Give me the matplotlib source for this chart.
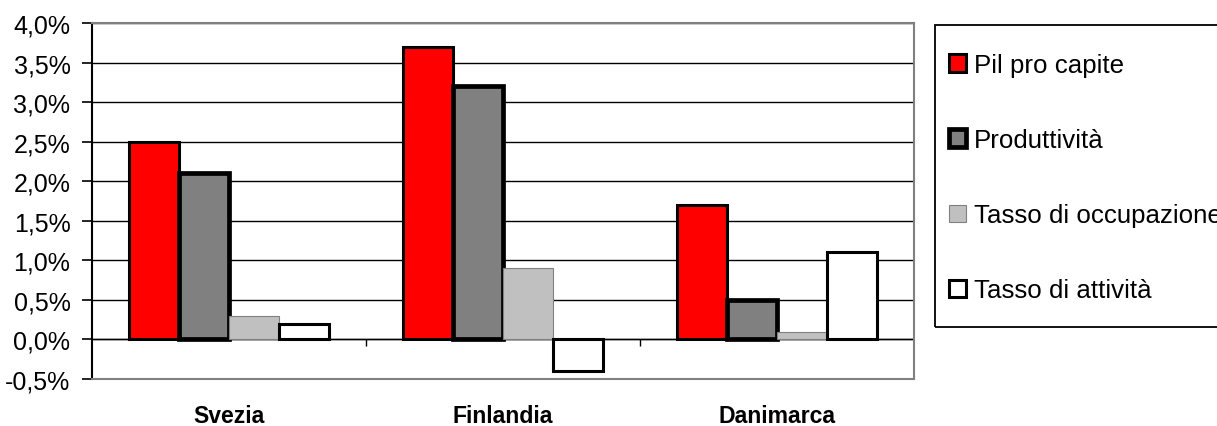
import matplotlib
matplotlib.use("Agg")
import matplotlib.pyplot as plt
import matplotlib.transforms as mtransforms
from matplotlib.patches import Patch, Rectangle
from matplotlib.ticker import FuncFormatter, MultipleLocator
import numpy as np

plt.rcParams["font.family"] = ["Liberation Sans", "DejaVu Sans"]

countries = ["Svezia", "Finlandia", "Danimarca"]
series_names = ["Pil pro capite", "Produttività", "Tasso di occupazione", "Tasso di attività"]
pil = [2.5, 3.7, 1.7]
produttivita = [2.1, 3.2, 0.5]
occupazione = [0.3, 0.9, 0.1]
attivita = [0.2, -0.4, 1.1]

values = [pil, produttivita, occupazione, attivita]
faces = ["#FF0000", "#808080", "#C0C0C0", "#FFFFFF"]
edges = ["#000000", "#000000", "#808080", "#000000"]
edge_widths = [2.2, 3.4, 0.8, 2.2]

W, H = 1217, 427
fig = plt.figure(figsize=(W / 100, H / 100), dpi=100)
ax = fig.add_axes([92 / W, (H - 380) / H, (914 - 92) / W, (380 - 24) / H])

x = np.arange(len(countries))
bar_w = 1 / 5.5  # four bars plus a 150% gap per category
for i, vals in enumerate(values):
    ax.bar(x + (i - 1.5) * bar_w, vals, width=bar_w, color=faces[i],
           edgecolor=edges[i], linewidth=edge_widths[i], zorder=3 + i)

ax.set_xlim(-0.5, 2.5)
ax.set_ylim(-0.5, 4.0)
ax.yaxis.set_major_locator(MultipleLocator(0.5))
ax.yaxis.set_major_formatter(FuncFormatter(lambda v, _: f"{v:.1f}%".replace(".", ",")))
ax.grid(axis="y", color="black", linewidth=1.0, zorder=1)
ax.set_axisbelow(True)

# category axis sits on the zero line, with tick marks between groups
ax.axhline(0, color="black", linewidth=1.0, zorder=2)
trans = mtransforms.blended_transform_factory(ax.transData, ax.transAxes)
zero_frac = 0.5 / 4.5
ax.vlines([0.5, 1.5], zero_frac - 0.018, zero_frac, transform=trans,
          color="black", linewidth=1.0, zorder=2)

ax.set_xticks(x)
ax.set_xticklabels(countries, fontsize=16.6, fontweight="bold")
ax.tick_params(axis="x", length=0, pad=18)
ax.tick_params(axis="y", length=7, width=1.2, labelsize=18, pad=8.5, color="black")

for side in ("top", "right", "bottom"):
    ax.spines[side].set_color("#808080")
    ax.spines[side].set_linewidth(1.5)
ax.spines["left"].set_color("black")
ax.spines["left"].set_linewidth(1.5)

# legend box runs past the right edge of the figure
fig.patches.append(Rectangle((935 / W, 1 - 328 / H), 400 / W, (328 - 26) / H,
                             transform=fig.transFigure, fill=False,
                             edgecolor="black", linewidth=1.3))
handles = [Patch(facecolor=faces[i], edgecolor=edges[i], linewidth=edge_widths[i])
           for i in range(len(series_names))]
leg = fig.legend(handles, series_names, loc="upper left",
                 bbox_to_anchor=(949 / W, 1 - 54 / H), fontsize=18.6,
                 frameon=False, handlelength=0.65, handleheight=0.65,
                 handletextpad=0.3, labelspacing=1.98, borderpad=0,
                 borderaxespad=0)

fig.savefig("out.png", dpi=100)
